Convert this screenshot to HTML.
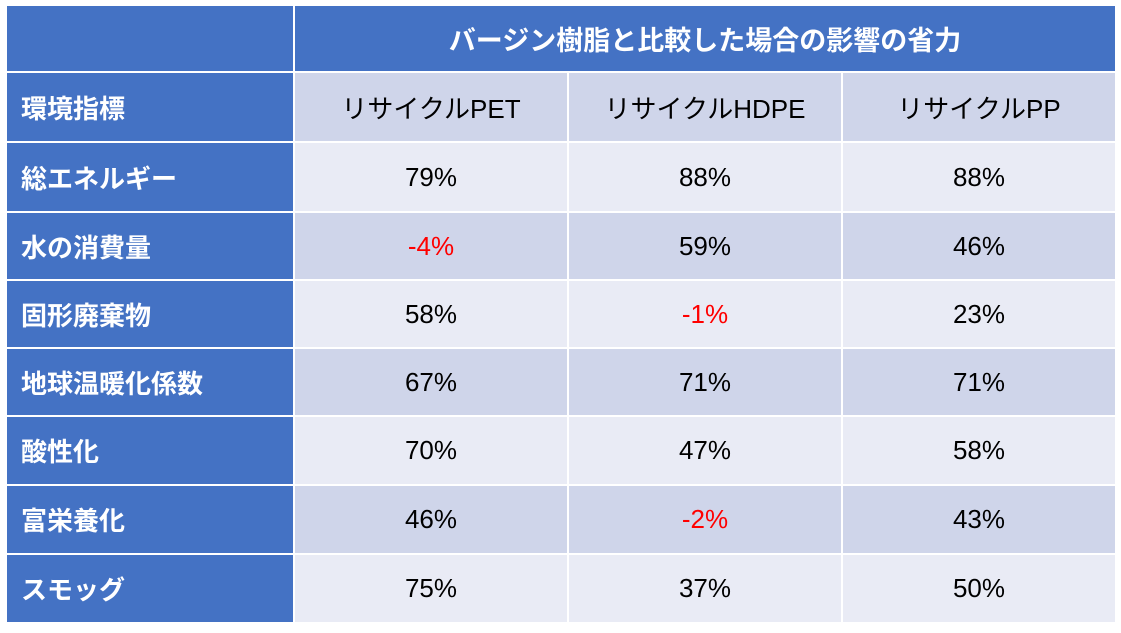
<!DOCTYPE html>
<html><head><meta charset="utf-8">
<style>
body{margin:0;background:#fff;width:1121px;height:633px;position:relative;overflow:hidden;font-family:"Liberation Sans","Noto Sans CJK JP",sans-serif;}
.c{position:absolute;display:flex;align-items:center;justify-content:center;font-size:26px;color:#000;}
.b{background:#4472C4;color:#fff;font-weight:bold;}
.l{justify-content:flex-start;padding-left:14px;box-sizing:border-box;}
.d{background:#CFD5EA;}
.e{background:#E9EBF5;}
.r{color:#f00;}
</style></head><body>
<div class="c b" style="left:7px;top:6px;width:286px;height:65px"></div>
<div class="c b" style="left:295px;top:6px;width:820px;height:65px;font-size:27px">バージン樹脂と比較した場合の影響の省力</div>
<div id="t"></div>
<script>
const rows=["環境指標","総エネルギー","水の消費量","固形廃棄物","地球温暖化係数","酸性化","富栄養化","スモッグ"];
const cols=["リサイクルPET","リサイクルHDPE","リサイクルPP"];
const pet=[79,-4,58,67,70,46,75];
const hdpe=[88,59,-1,71,47,-2,37];
const pp=[88,46,23,71,58,43,50];
const series=[pet,hdpe,pp];
const tops=[73,143,213,281,349,417,486,555];
const hs=[68,68,66,66,66,67,67,67];
const xs=[7,295,569,843],ws=[286,272,272,272];
const t=document.getElementById('t');
rows.forEach((r,i)=>{
  const a=document.createElement('div');
  a.className='c b l';
  
  
  a.style.cssText=`left:${xs[0]}px;top:${tops[i]}px;width:${ws[0]}px;height:${hs[i]}px`;
  a.textContent=r;t.appendChild(a);
  for(let j=0;j<3;j++){
    const c=document.createElement('div');
    const shade=(i%2==0)?'d':'e';
    let txt,neg=false;
    if(i==0){txt=cols[j];}else{const v=series[j][i-1];txt=v+'%';neg=v<0;}
    c.className='c '+shade+(neg?' r':'');
    
    
    c.style.cssText=`left:${xs[j+1]}px;top:${tops[i]}px;width:${ws[j+1]}px;height:${hs[i]}px`;
    c.textContent=txt;t.appendChild(c);
  }
});
</script>
</body></html>
